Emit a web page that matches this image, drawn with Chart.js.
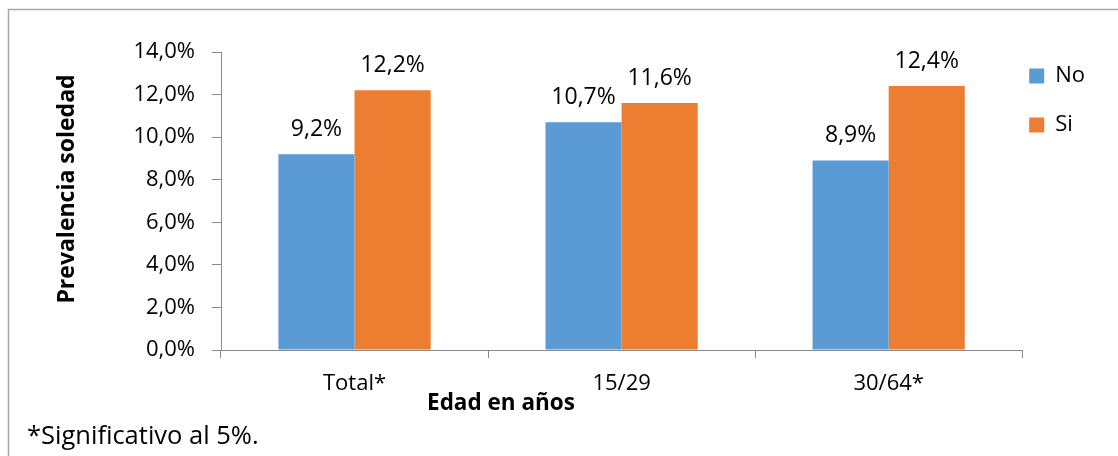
<!DOCTYPE html>
<html>
<head>
<meta charset="utf-8">
<script src="https://cdn.jsdelivr.net/npm/chart.js@4.4.0/dist/chart.umd.min.js"></script>
<style>
  html, body { margin: 0; padding: 0; background: #fff; }
  #wrap { width: 1118px; height: 456px; position: relative; }
</style>
</head>
<body>
<div id="wrap"><canvas id="chart"></canvas></div>
<script>
const categories = ['Total*', '15/29', '30/64*'];
const seriesNames = ['No', 'Si'];
const noValues = [9.2, 10.7, 8.9];
const siValues = [12.2, 11.6, 12.4];
const yTicks = [0, 2, 4, 6, 8, 10, 12, 14];

const xTitle = 'Edad en años';
const yTitle = 'Prevalencia soledad';
const footnote = '*Significativo al 5%.';

const FONT = '"Open Sans", "Liberation Sans", sans-serif';
const AXIS = '#898989';

function pct(v) {
    return v.toFixed(1).replace('.', ',') + '%';
}

// frame, axis titles, footnote and the value labels over the bars
const extras = {
    id: 'extras',
    afterLayout(chart) {
        // pull the legend in next to the plot area, like Excel does
        const lg = chart.legend;
        lg.left -= 20; lg.right -= 20;
        lg.top -= 14; lg.bottom -= 14;
    },
    beforeDraw(chart) {
        const ctx = chart.ctx;
        ctx.save();
        ctx.strokeStyle = '#a6a6a6';
        ctx.lineWidth = 1.5;
        ctx.beginPath();
        ctx.moveTo(8.5, 460);
        ctx.lineTo(8.5, 9.5);
        ctx.lineTo(1120, 9.5);
        ctx.stroke();
        ctx.restore();
    },
    afterDraw(chart) {
        const ctx = chart.ctx;
        ctx.save();
        ctx.fillStyle = '#000';
        ctx.textAlign = 'center';
        ctx.textBaseline = 'middle';
        ctx.font = 'bold 22.5px ' + FONT;
        ctx.fillText(xTitle, 501, 404);
        ctx.font = 'bold 23px ' + FONT;
        ctx.save();
        ctx.translate(67, 189);
        ctx.rotate(-Math.PI / 2);
        ctx.fillText(yTitle, 0, 0);
        ctx.restore();
        ctx.textAlign = 'left';
        ctx.font = '25.5px ' + FONT;
        ctx.fillText(footnote, 27, 437);

        ctx.font = '23px ' + FONT;
        ctx.textAlign = 'center';
        chart.data.datasets.forEach((ds, i) => {
            chart.getDatasetMeta(i).data.forEach((bar, j) => {
                ctx.fillText(pct(ds.data[j]), bar.x, bar.y - 25);
            });
        });
        ctx.restore();
    }
};

new Chart(document.getElementById('chart'), {
    type: 'bar',
    plugins: [extras],
    data: {
        labels: categories,
        datasets: [
            { label: seriesNames[0], data: noValues, backgroundColor: '#5B9BD5' },
            { label: seriesNames[1], data: siValues, backgroundColor: '#ED7D31' }
        ]
    },
    options: {
        responsive: true,
        maintainAspectRatio: false,
        animation: false,
        events: [],
        layout: { padding: { top: 52, right: 3, bottom: 0, left: 0 } },
        datasets: { bar: { categoryPercentage: 0.57, barPercentage: 1 } },
        plugins: {
            tooltip: { enabled: false },
            legend: {
                position: 'right',
                align: 'start',
                labels: {
                    color: '#000',
                    font: { family: FONT, size: 22 },
                    boxWidth: 15,
                    boxHeight: 15,
                    padding: 27
                }
            }
        },
        scales: {
            x: {
                afterFit: s => { s.height = 106; },
                grid: { offset: true, drawOnChartArea: false, tickLength: 8, color: AXIS },
                border: { color: AXIS },
                ticks: { color: '#000', font: { family: FONT, size: 22 }, padding: 13 }
            },
            y: {
                min: 0,
                max: 14,
                afterFit: s => { s.width = 221; },
                afterBuildTicks: s => { s.ticks = yTicks.map(v => ({ value: v })); },
                grid: { drawOnChartArea: false, tickLength: 9, color: AXIS },
                border: { color: AXIS },
                ticks: {
                    color: '#000',
                    font: { family: FONT, size: 22 },
                    padding: 17,
                    callback: v => pct(v)
                }
            }
        }
    }
});
</script>
</body>
</html>
